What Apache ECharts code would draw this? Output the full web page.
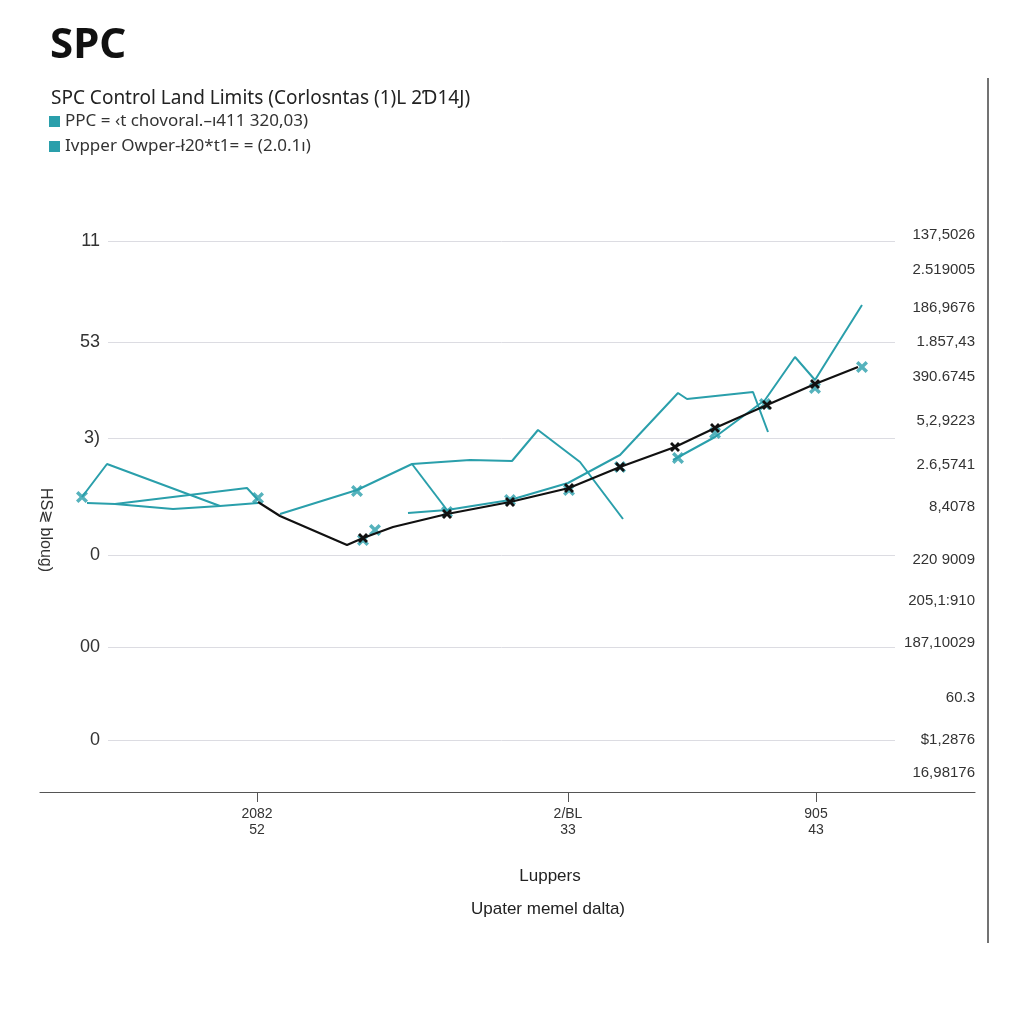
<!DOCTYPE html>
<html><head><meta charset="utf-8">
<script src="https://cdn.jsdelivr.net/npm/echarts@6/dist/echarts.min.js"></script>
<style>html,body{margin:0;padding:0;background:#fff}#c{width:1024px;height:1024px}</style>
</head><body><div id="c"></div>
<script>
// ---- data (x: time index, y: measured value) ----
const legendNames = ['PPC = \u2039t chovoral.\u2013\u0131411 320,03)', 'Ivpper Owper-\u014220*t1= = (2.0.1\u0131)'];
const meanLine = [[218,290],[240,276],[307,247],[323,254],[353,265],[407,278],[470,290],[529,304],[580,325],[635,345],[675,364],[727,387],[775,408],[818,425]];
const meanMarked = [3,5,6,7,8,9,10,11,12];
const tealA1 = [[42,295],[67,328],[180,286],[218,289]];
const tealA2 = [[75,288],[133,283],[180,286]];
const tealA3 = [[240,278],[317,302],[372,328],[430,332],[472,331],[498,362],[540,330],[583,273]];
const tealA4 = [[372,328],[407,282]];
const tealB1 = [[47,289],[75,288],[207,304],[218,292]];
const tealB2 = [[368,279],[407,282],[470,292],[528,309],[580,337],[638,399],[647,393],[713,400],[728,360]];
const tealB3 = [[633,332],[675,355],[725,392],[755,435],[775,412],[800,452],[822,487]];
const tealMarks = [[42,295],[218,294],[317,301],[323,252],[335,262],[407,280],[470,292],[529,302],[580,325],[638,334],[675,359],[725,388],[775,404],[822,425]];
const leftTickVals = [52,145,237,354,450,551];
const leftTickTexts = ['0','00','0','3)','53','11'];
const rightTickVals = [557,522,484,450,415,371,327,285,232,191,149,94,52,19];
const rightTickTexts = ['137,5026','2.519005','186,9676','1.857,43','390.6745','5,2,9223','2.6,5741','8,4078','220 9009','205,1:910','187,10029','60.3','$1,2876','16,98176'];
const xTickVals = [217,528,776];
const xTickTexts = ['2082\n52','2/BL\n33','905\n43'];

const TEAL = '#2a9fab';
const lookup = (vals, texts) => v => { const i = vals.indexOf(v); return i < 0 ? '' : texts[i]; };
const crossPath = 'path://M0,2L2,0L5,3L8,0L10,2L7,5L10,8L8,10L5,7L2,10L0,8L3,5Z';
const narrow = 'Liberation Sans Narrow, Liberation Sans, sans-serif';

function tealSeries(name, data) {
  return { type: 'line', name, xAxisIndex: 0, yAxisIndex: 0, data, showSymbol: false,
    lineStyle: { color: TEAL, width: 2 }, itemStyle: { color: TEAL }, z: 3, silent: true };
}

const chart = echarts.init(document.getElementById('c'));
chart.setOption({
  backgroundColor: '#fff',
  animation: false,
  title: [
    { text: 'SPC', left: 45, top: 20, textStyle: { fontFamily: 'Noto Sans', fontSize: 42, fontWeight: 'bold', color: '#111' } },
    { text: 'SPC Control Land Limits (Corlosntas (1)L 2\u018a14J)', left: 46, top: 84, textStyle: { fontFamily: 'Noto Sans', fontSize: 19, fontWeight: 'normal', color: '#222' } }
  ],
  legend: {
    data: legendNames, left: 44, top: 108, orient: 'vertical', itemGap: 8, icon: 'rect', itemWidth: 11, itemHeight: 11,
    textStyle: { fontFamily: 'Noto Sans', fontSize: 17, color: '#333' }
  },
  grid: [
    { left: 40, right: 49, top: 232, bottom: 232 },
    { left: 108, right: 129, top: 232, bottom: 232 }
  ],
  xAxis: [
    { type: 'value', gridIndex: 0, min: 0, max: 935,
      axisLine: { show: true, lineStyle: { color: '#555', width: 1.2 } },
      axisTick: { show: true, customValues: xTickVals, length: 10, lineStyle: { color: '#555' } },
      axisLabel: { show: true, customValues: xTickVals, formatter: lookup(xTickVals, xTickTexts), margin: 14,
        fontFamily: narrow, fontSize: 14, lineHeight: 16, color: '#333' },
      splitLine: { show: false } },
    { type: 'value', gridIndex: 1, min: 0, max: 100, show: false }
  ],
  yAxis: [
    { type: 'value', gridIndex: 0, min: 0, max: 560, show: false },
    { type: 'value', gridIndex: 1, min: 0, max: 560, position: 'left',
      axisLine: { show: false }, axisTick: { show: false, customValues: leftTickVals },
      axisLabel: { customValues: leftTickVals, formatter: lookup(leftTickVals, leftTickTexts), margin: 8,
        fontFamily: 'Liberation Sans', fontSize: 18, color: '#333' },
      splitLine: { show: true, lineStyle: { color: '#dcdce2', width: 1 } } },
    { type: 'value', gridIndex: 1, min: 0, max: 560, position: 'right',
      axisLine: { show: false }, axisTick: { show: false, customValues: rightTickVals },
      axisLabel: { customValues: rightTickVals, formatter: lookup(rightTickVals, rightTickTexts), margin: 80, align: 'right',
        fontFamily: narrow, fontSize: 15, color: '#333' },
      splitLine: { show: false } }
  ],
  series: [
    tealSeries(legendNames[0], tealA1),
    tealSeries(legendNames[0], tealA2),
    tealSeries(legendNames[0], tealA3),
    tealSeries(legendNames[0], tealA4),
    tealSeries(legendNames[1], tealB1),
    tealSeries(legendNames[1], tealB2),
    tealSeries(legendNames[1], tealB3),
    { type: 'scatter', name: 'marks', data: tealMarks, symbol: crossPath, symbolSize: 12,
      itemStyle: { color: TEAL }, z: 4, silent: true },
    { type: 'line', name: 'mean', data: meanLine, symbol: crossPath,
      symbolSize: (v, p) => meanMarked.indexOf(p.dataIndex) >= 0 ? 10 : 0,
      lineStyle: { color: '#111', width: 2.2 }, itemStyle: { color: '#111' }, z: 5, silent: true }
  ],
  graphic: [
    { type: 'line', shape: { x1: 988, y1: 78, x2: 988, y2: 943 }, style: { stroke: '#444', lineWidth: 1.5 } },
    { type: 'text', x: 45, y: 530, rotation: -Math.PI / 2,
      style: { text: 'HS\u2277 blou\u0261)', fontFamily: 'Liberation Sans', fontSize: 16, fill: '#333', align: 'center', verticalAlign: 'middle' } },
    { type: 'text', x: 550, y: 876,
      style: { text: 'Luppers', fontFamily: narrow, fontSize: 17, fill: '#222', align: 'center', verticalAlign: 'middle' } },
    { type: 'text', x: 548, y: 909,
      style: { text: 'Upater memel dalta)', fontFamily: narrow, fontSize: 17, fill: '#222', align: 'center', verticalAlign: 'middle' } }
  ]
});
</script></body></html>
